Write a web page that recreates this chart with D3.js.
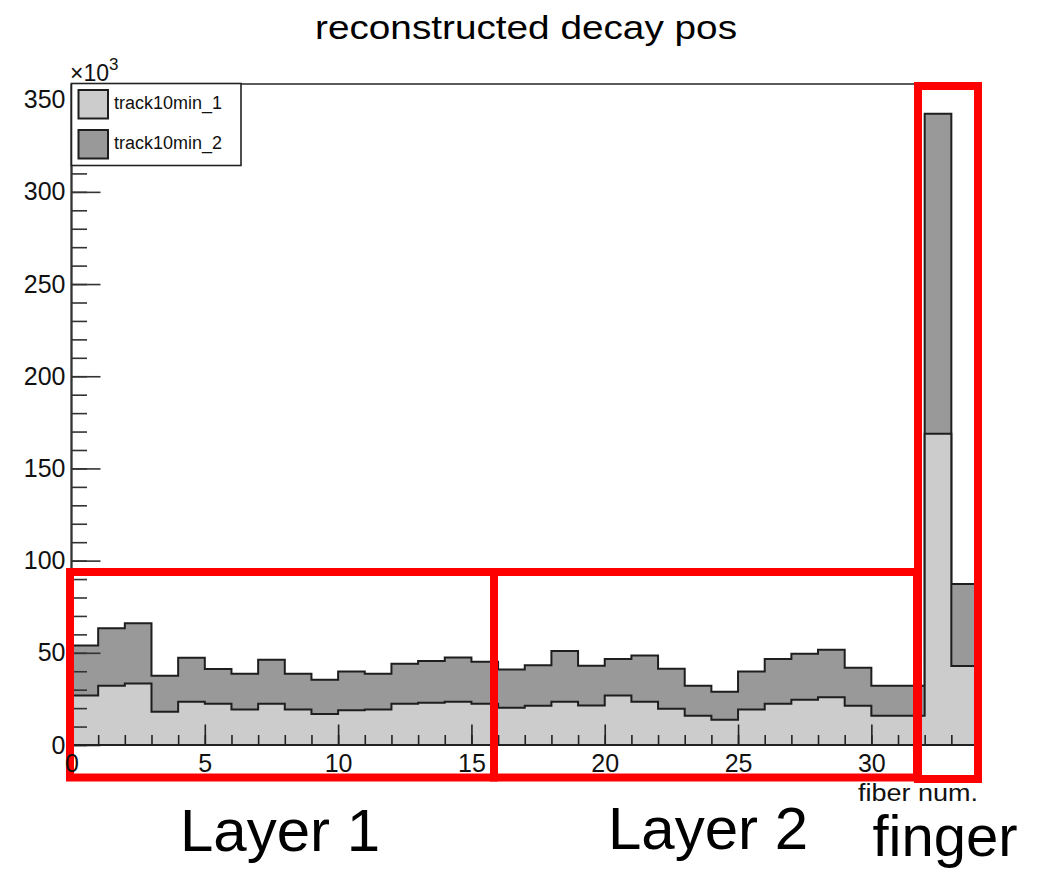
<!DOCTYPE html>
<html>
<head>
<meta charset="utf-8">
<script src="https://cdn.jsdelivr.net/npm/d3@7"></script>
<style>
  html, body { margin: 0; padding: 0; background: #fff; }
  svg { display: block; }
  text { font-family: "Liberation Sans", Arial, sans-serif; }
</style>
</head>
<body>
<svg id="chart" width="1063" height="871"></svg>
<script>
// ---- data (values in units of 10^3) ----
const bins = d3.range(34); // fiber number bins 0..33 (bin i spans [i, i+1])
const track10min_1 = [26.9, 32.2, 33.3, 18.1, 23.5, 22.4, 19.2, 22.4, 19.2, 16.8,
                      18.8, 19.2, 22.4, 22.9, 23.5, 22.4, 20.2, 21.3, 23.5, 21.4,
                      26.9, 23.5, 19.7, 15.9, 13.7, 19.2, 22.4, 24.6, 25.9, 21.3,
                      15.9, 15.9, 168.8, 42.8];
const track10min_2 = [27.0, 31.1, 32.7, 19.5, 23.8, 18.8, 19.5, 23.9, 19.5, 18.6,
                      21.0, 19.5, 21.7, 22.7, 24.0, 22.8, 20.8, 21.9, 27.5, 21.6,
                      19.7, 25.1, 21.7, 16.3, 15.2, 20.6, 24.2, 24.9, 25.8, 20.6,
                      16.3, 16.3, 173.6, 44.5];
const seriesNames = ["track10min_1", "track10min_2"];
const seriesColors = ["#cccccc", "#999999"];
const yTickLabels = [0, 50, 100, 150, 200, 250, 300, 350];
const xTickLabels = [0, 5, 10, 15, 20, 25, 30];
const annotations = [
  { label: "Layer 1", box: [70, 572, 494, 777.5], text: [280, 851], size: 60 },
  { label: "Layer 2", box: [494, 572, 917, 777.5], text: [708, 849], size: 60 },
  { label: "finger",  box: [918, 86, 978, 779],   text: [945, 856], size: 58 }
];

// ---- layout ----
const svg = d3.select("#chart");
const x = d3.scaleLinear().domain([0, 34]).range([71.5, 978]);
const y = d3.scaleLinear().domain([0, 358.5]).range([745, 84]);

// stacked values
const table = bins.map(i => ({ bin: i, track10min_1: track10min_1[i], track10min_2: track10min_2[i] }));
const stacked = d3.stack().keys(seriesNames)(table);

function stepPoints(layer) {
  const pts = [[0, 0]];
  layer.forEach((d, i) => pts.push([i, d[1]]));
  pts.push([34, 0]);
  return pts;
}
const line = d3.line().x(d => x(d[0])).y(d => y(d[1])).curve(d3.curveStepAfter);

// draw total (dark) first, then light on top
[1, 0].forEach(k => {
  svg.append("path")
    .attr("d", line(stepPoints(stacked[k])) + "Z")
    .attr("fill", seriesColors[k])
    .attr("stroke", "#1e1e1e")
    .attr("stroke-width", 2);
});

// frame
svg.append("rect")
  .attr("x", x(0)).attr("y", y(358.5))
  .attr("width", x(34) - x(0)).attr("height", y(0) - y(358.5))
  .attr("fill", "none").attr("stroke", "#333").attr("stroke-width", 1.6);

// y axis ticks (inward)
const yMinor = d3.range(0, 351, 10);
svg.append("g").attr("transform", `translate(${x(0)},0)`)
  .call(d3.axisRight(y).tickValues(yMinor).tickSize(15.5).tickFormat(""))
  .call(g => g.select(".domain").remove())
  .call(g => g.selectAll("line").attr("stroke", "#333").attr("stroke-width", 1.6));
svg.append("g").attr("transform", `translate(${x(0)},0)`)
  .call(d3.axisRight(y).tickValues(yTickLabels).tickSize(29).tickFormat(""))
  .call(g => g.select(".domain").remove())
  .call(g => g.selectAll("line").attr("stroke", "#333").attr("stroke-width", 1.6));

// x axis ticks (inward)
svg.append("g").attr("transform", `translate(0,${y(0)})`)
  .call(d3.axisTop(x).tickValues(d3.range(0, 35, 1)).tickSize(10).tickFormat(""))
  .call(g => g.select(".domain").remove())
  .call(g => g.selectAll("line").attr("stroke", "#222").attr("stroke-width", 1.6));
svg.append("g").attr("transform", `translate(0,${y(0)})`)
  .call(d3.axisTop(x).tickValues(xTickLabels).tickSize(20.5).tickFormat(""))
  .call(g => g.select(".domain").remove())
  .call(g => g.selectAll("line").attr("stroke", "#222").attr("stroke-width", 1.6));

// axis lines
svg.append("line").attr("x1", x(0)).attr("x2", x(0)).attr("y1", y(0)).attr("y2", y(358.5))
  .attr("stroke", "#333").attr("stroke-width", 2);
svg.append("line").attr("x1", x(0)).attr("x2", x(34)).attr("y1", y(0)).attr("y2", y(0))
  .attr("stroke", "#222").attr("stroke-width", 2);

// legend
const leg = svg.append("g");
leg.append("rect").attr("x", 71.5).attr("y", 83.5).attr("width", 169.5).attr("height", 82)
  .attr("fill", "#fff").attr("stroke", "#222").attr("stroke-width", 1.6);
seriesNames.forEach((name, i) => {
  const yy = 90 + i * 40;
  leg.append("rect").attr("x", 78.5).attr("y", yy).attr("width", 29.5).attr("height", 28.5)
    .attr("fill", seriesColors[i]).attr("stroke", "#1e1e1e").attr("stroke-width", 2);
  leg.append("text").attr("x", 114).attr("y", yy + 18.5).attr("font-size", 18)
    .attr("textLength", 108).attr("lengthAdjust", "spacingAndGlyphs")
    .attr("fill", "#111").text(name);
});

// annotation boxes (over the plot, under the tick labels)
annotations.forEach(a => {
  const [x0, y0, x1, y1] = a.box;
  svg.append("rect").attr("x", x0).attr("y", y0).attr("width", x1 - x0).attr("height", y1 - y0)
    .attr("fill", "none").attr("stroke", "#ff0000").attr("stroke-width", 8);
});

// tick labels
svg.append("g").attr("transform", `translate(${x(0)},0)`)
  .call(d3.axisLeft(y).tickValues(yTickLabels).tickSize(0).tickPadding(6))
  .call(g => g.select(".domain").remove())
  .call(g => g.selectAll("text").attr("font-size", 25).attr("fill", "#111")
      .attr("font-family", "Liberation Sans, Arial, sans-serif"));
svg.append("g").attr("transform", `translate(0,${y(0)})`)
  .call(d3.axisBottom(x).tickValues(xTickLabels).tickSize(0).tickPadding(9))
  .call(g => g.select(".domain").remove())
  .call(g => g.selectAll("text").attr("font-size", 25).attr("fill", "#111")
      .attr("font-family", "Liberation Sans, Arial, sans-serif"));

// exponent label
const ex = svg.append("text").attr("x", 70).attr("y", 81).attr("font-size", 23).attr("fill", "#111");
ex.append("tspan").text("×10");
ex.append("tspan").attr("font-size", 17).attr("dy", -11).text("3");

// x axis title
svg.append("text").attr("x", 858).attr("y", 801).attr("font-size", 23)
  .attr("textLength", 120).attr("lengthAdjust", "spacingAndGlyphs")
  .attr("fill", "#111").text("fiber num.");

// title
svg.append("text").attr("x", 315).attr("y", 39).attr("font-size", 34)
  .attr("textLength", 422).attr("lengthAdjust", "spacingAndGlyphs")
  .attr("fill", "#000").text("reconstructed decay pos");

// annotation labels
annotations.forEach(a => {
  svg.append("text").attr("x", a.text[0]).attr("y", a.text[1])
    .attr("text-anchor", "middle").attr("font-size", a.size)
    .attr("font-family", "Noto Sans, Open Sans, sans-serif")
    .attr("fill", "#000").text(a.label);
});
</script>
</body>
</html>
